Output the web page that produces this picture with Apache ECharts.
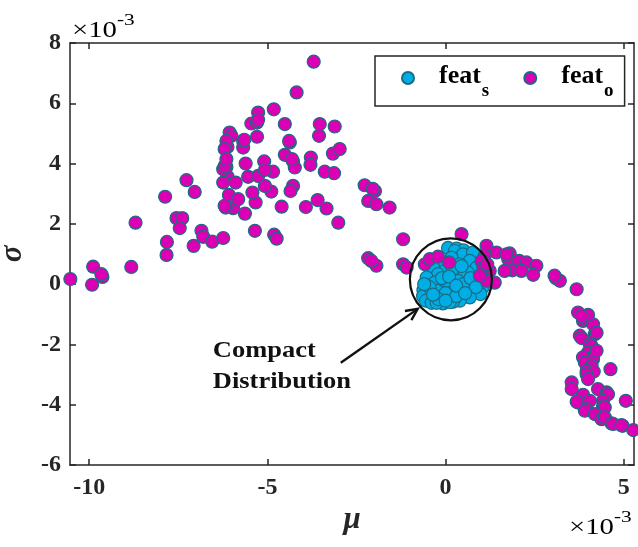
<!DOCTYPE html>
<html><head><meta charset="utf-8">
<script src="https://cdn.jsdelivr.net/npm/echarts@6/dist/echarts.min.js"></script>
<style>html,body{margin:0;padding:0;background:#fff}#c{width:638px;height:547px}</style>
</head><body><div id="c"></div>
<script>
// ---- data (units of 1e-3) ----
const xTicks = [-10, -5, 0, 5];
const yTicks = [-6, -4, -2, 0, 2, 4, 6, 8];
const seriesNames = ['feat_s', 'feat_o'];

const featS = [
[0.07,1.20],[0.31,1.18],[0.50,1.12],[0.26,1.10],[0.49,0.99],[0.77,1.05],[0.17,0.88],[0.68,0.77],
[-0.11,0.72],[0.40,0.66],[0.87,0.55],[-0.35,0.55],[-0.02,0.44],[0.63,0.38],[0.26,0.33],[-0.21,0.33],
[-0.53,0.22],[0.49,0.22],[1.05,0.17],[0.77,0.11],[0.35,0.11],[0.03,0.05],[-0.30,0.05],[0.12,0.00],
[1.04,-0.11],[0.59,-0.11],[-0.58,-0.11],[-0.62,-0.20],[-0.25,-0.22],[0.40,-0.22],[-0.49,-0.22],[0.17,-0.28],
[0.92,-0.28],[0.98,-0.33],[-0.60,-0.39],[0.68,-0.44],[-0.39,-0.44],[-0.63,-0.40],[-0.11,-0.50],[0.40,-0.55],
[0.21,-0.58],[-0.55,-0.55],[-0.39,-0.62],[-0.07,-0.64],[0.12,-0.60],[-0.25,-0.62],[-0.45,-0.10],[0.00,-0.30],
[0.30,-0.40],[0.50,0.00],[0.20,0.50],[-0.10,0.20],[0.70,0.20],[0.85,-0.10],[-0.20,-0.50],[0.45,0.60],
[-0.60,0.00],[0.10,0.25],[0.30,-0.05],[-0.35,-0.35],[0.55,-0.30],[0.00,-0.55]
];

const featO = [
[-10.53,0.17],[-9.89,0.58],[-9.63,0.24],[-9.66,0.33],[-9.92,-0.02],[-8.82,0.57],[-8.70,2.04],[-7.82,1.40],
[-7.83,0.97],[-7.87,2.90],[-7.27,3.45],[-7.04,3.06],[-7.55,2.19],[-7.39,2.19],[-7.46,1.86],[-6.85,1.77],
[-6.80,1.57],[-7.07,1.27],[-6.55,1.41],[-6.24,1.53],[-5.35,1.77],[-4.81,1.64],[-4.74,1.51],[-5.63,2.34],
[-5.96,2.52],[-6.17,2.54],[-6.08,2.96],[-5.33,2.71],[-5.42,3.04],[-5.82,2.82],[-4.60,2.57],[-4.89,3.07],
[-5.07,3.26],[-5.54,3.56],[-6.12,3.57],[-6.24,3.37],[-5.89,3.37],[-5.26,3.59],[-4.84,3.73],[-5.09,4.07],
[-5.61,4.00],[-6.15,3.89],[-6.24,3.81],[-6.12,4.55],[-5.68,4.53],[-4.37,4.70],[-4.51,4.29],[-4.28,4.07],
[-4.23,3.87],[-3.78,4.20],[-3.79,3.96],[-4.28,3.26],[-4.35,3.09],[-3.92,2.56],[-3.59,2.79],[-3.34,2.51],
[-3.01,2.04],[-3.39,3.73],[-3.13,3.68],[-3.16,4.33],[-2.97,4.48],[-2.27,3.28],[-1.98,3.09],[-2.04,3.16],
[-2.17,2.76],[-1.94,2.65],[-1.57,2.54],[-2.17,0.86],[-1.94,0.61],[-3.70,7.38],[-4.18,6.36],[-4.82,5.80],
[-5.26,5.69],[-5.45,5.33],[-5.29,5.36],[-5.26,5.45],[-4.51,5.31],[-4.39,4.75],[-5.29,4.89],[-6.06,5.03],
[-6.01,4.92],[-5.68,4.75],[-5.65,4.79],[-6.15,4.75],[-6.20,4.48],[-4.31,4.15],[-6.20,3.92],[-6.15,4.15],
[-5.07,3.79],[-6.20,2.60],[-3.53,5.31],[-3.11,5.23],[-3.55,4.92],
[0.45,1.66],[-1.19,1.49],[1.15,1.27],[1.43,1.05],[1.10,0.94],[1.80,1.02],[1.76,0.83],[2.07,0.77],
[2.27,0.72],[2.55,0.61],[1.88,0.46],[2.13,0.44],[2.46,0.31],[3.10,0.20],[3.21,0.11],[3.06,0.28],
[3.68,-0.17],[1.10,0.61],[1.24,0.44],[1.38,0.05],[1.15,0.11],[1.01,0.77],[1.06,0.55],[0.96,0.28],
[1.71,0.99],[1.66,0.44],[1.17,0.66],[-2.08,0.77],[-1.19,0.66],[-1.09,0.55],[-0.58,0.66],[-0.44,0.83],
[-0.21,0.91],[0.10,0.72],
[3.72,-0.94],[3.86,-1.22],[4.14,-1.33],[4.19,-1.66],[3.77,-1.71],[3.86,-1.11],[4.00,-1.02],[3.82,-1.05],
[4.24,-1.61],[3.82,-1.79],[4.05,-1.99],[4.10,-2.05],[4.00,-2.27],[4.14,-2.49],[4.14,-2.43],[3.86,-2.43],
[3.91,-2.60],[4.10,-2.71],[4.24,-2.21],[3.96,-2.88],[4.16,-2.90],[3.96,-2.99],[4.63,-2.82],[4.00,-3.15],
[3.54,-3.26],[3.54,-3.48],[4.28,-3.48],[4.52,-3.59],[4.56,-3.65],[3.86,-3.67],[3.72,-3.93],[3.68,-3.90],
[4.05,-3.87],[4.42,-3.87],[4.42,-4.04],[4.47,-4.09],[3.96,-4.15],[3.91,-4.20],[4.19,-4.31],[4.38,-4.48],
[4.47,-4.42],[4.66,-4.62],[4.71,-4.64],[4.97,-4.70],[4.94,-4.68],[5.27,-4.84],[5.06,-3.87]
];

// annotation anchors (data units)
const annotCircle = [0.15, 0.16];
const annotArrowFrom = [-2.94, -2.61];
const annotArrowTo = [-0.78, -0.82];
const annotLabel = [-6.53, -1.72];

// ---- styles ----
const F = '"Liberation Serif","Times New Roman",serif';
const AX = '#262626';
const EDGE = '#1b6c82';

const chart = echarts.init(document.getElementById('c'), null, {renderer: 'canvas'});

function xAxisCfg(pos) {
  return {
    type: 'value', min: -10.54, max: 5.29, position: pos,
    axisLine: {onZero: false, lineStyle: {color: AX, width: 1.5}},
    axisTick: {inside: true, length: 6, customValues: xTicks, lineStyle: {color: AX, width: 1.5}},
    axisLabel: pos === 'bottom' ? {customValues: xTicks, fontFamily: F, fontWeight: 'bold', fontSize: 24, color: AX, margin: 11} : {show: false},
    splitLine: {show: false},
    name: pos === 'bottom' ? 'μ' : '',
    nameLocation: 'middle', nameGap: 36,
    nameTextStyle: {fontFamily: F, fontStyle: 'italic', fontWeight: 'bold', fontSize: 31, color: AX}
  };
}
function yAxisCfg(pos) {
  return {
    type: 'value', min: yTicks[0], max: yTicks[yTicks.length - 1], interval: 2, position: pos,
    axisLine: {onZero: false, lineStyle: {color: AX, width: 1.5}},
    axisTick: {inside: true, length: 6, lineStyle: {color: AX, width: 1.5}},
    axisLabel: pos === 'left' ? {fontFamily: F, fontWeight: 'bold', fontSize: 24, color: AX, margin: 9} : {show: false},
    splitLine: {show: false},
    name: pos === 'left' ? 'σ' : '',
    nameLocation: 'middle', nameGap: 42, nameRotate: 90,
    nameTextStyle: {fontFamily: F, fontStyle: 'italic', fontWeight: 'bold', fontSize: 31, color: AX}
  };
}

const legendRich = {
  sp: {width: 20},
  a: {fontFamily: F, fontWeight: 'bold', fontSize: 26, color: '#000', lineHeight: 30, verticalAlign: 'top'},
  b: {fontFamily: F, fontWeight: 'bold', fontSize: 19, color: '#000', lineHeight: 19, padding: [19, 0, 0, 1], verticalAlign: 'top'}
};

chart.setOption({
  animation: false,
  backgroundColor: '#fff',
  grid: {left: 70, right: 4, top: 43, bottom: 82, containLabel: false, outerBoundsMode: 'none'},
  xAxis: [xAxisCfg('bottom'), xAxisCfg('top')],
  yAxis: [yAxisCfg('left'), yAxisCfg('right')],
  legend: {
    left: 375, top: 56, orient: 'horizontal',
    padding: [7, 11, 5, 26], itemGap: 34, itemWidth: 12, itemHeight: 12,
    borderColor: AX, borderWidth: 1.5, icon: 'circle',
    data: seriesNames,
    formatter: function (n) { return n === 'feat_s' ? '{sp|}{a|feat}{b|s}' : '{sp|}{a|feat}{b|o}'; },
    textStyle: {rich: legendRich}
  },
  series: [
    {name: seriesNames[0], type: 'scatter', data: featS, symbolSize: 13,
     itemStyle: {color: '#00aee6', borderColor: EDGE, borderWidth: 1.2, opacity: 1}},
    {name: seriesNames[1], type: 'scatter', data: featO, symbolSize: 13,
     itemStyle: {color: '#dc00b4', borderColor: EDGE, borderWidth: 1.2, opacity: 1}}
  ]
});

// annotations
const pc = chart.convertToPixel({gridIndex: 0}, annotCircle);
const pf = chart.convertToPixel({gridIndex: 0}, annotArrowFrom);
const pt = chart.convertToPixel({gridIndex: 0}, annotArrowTo);
const pl = chart.convertToPixel({gridIndex: 0}, annotLabel);
const ang = Math.atan2(pt[1] - pf[1], pt[0] - pf[0]);
const hl = 13, ha = 0.45;
const h1 = [pt[0] - hl * Math.cos(ang - ha), pt[1] - hl * Math.sin(ang - ha)];
const h2 = [pt[0] - hl * Math.cos(ang + ha), pt[1] - hl * Math.sin(ang + ha)];

const supRich = {
  a: {fontFamily: F, fontSize: 23, color: AX, lineHeight: 30, verticalAlign: 'bottom'},
  b: {fontFamily: F, fontSize: 17, color: AX, lineHeight: 17, verticalAlign: 'top'}
};

chart.setOption({
  graphic: [
    {type: 'circle', shape: {cx: pc[0], cy: pc[1], r: 41}, style: {fill: 'none', stroke: '#111', lineWidth: 2.2}, z: 100},
    {type: 'line', shape: {x1: pf[0], y1: pf[1], x2: pt[0], y2: pt[1]}, style: {stroke: '#111', lineWidth: 2.4}, z: 100},
    {type: 'polyline', shape: {points: [h1, pt, h2]}, style: {stroke: '#111', lineWidth: 2.4, fill: null}, z: 100},
    {type: 'text', x: pl[0], y: pl[1], z: 100, scaleX: 1.15,
     style: {text: 'Compact\nDistribution', fontFamily: F, fontWeight: 'bold', fontSize: 23, lineHeight: 31, fill: '#111', verticalAlign: 'top', align: 'left'}},
    {type: 'text', x: 72, y: 12, z: 100, scaleX: 1.25, style: {text: '{a|×10}{b|-3}', rich: supRich, verticalAlign: 'top'}},
    {type: 'text', x: 569, y: 509, z: 100, scaleX: 1.25, style: {text: '{a|×10}{b|-3}', rich: supRich, verticalAlign: 'top'}}
  ]
});
</script>
</body></html>
